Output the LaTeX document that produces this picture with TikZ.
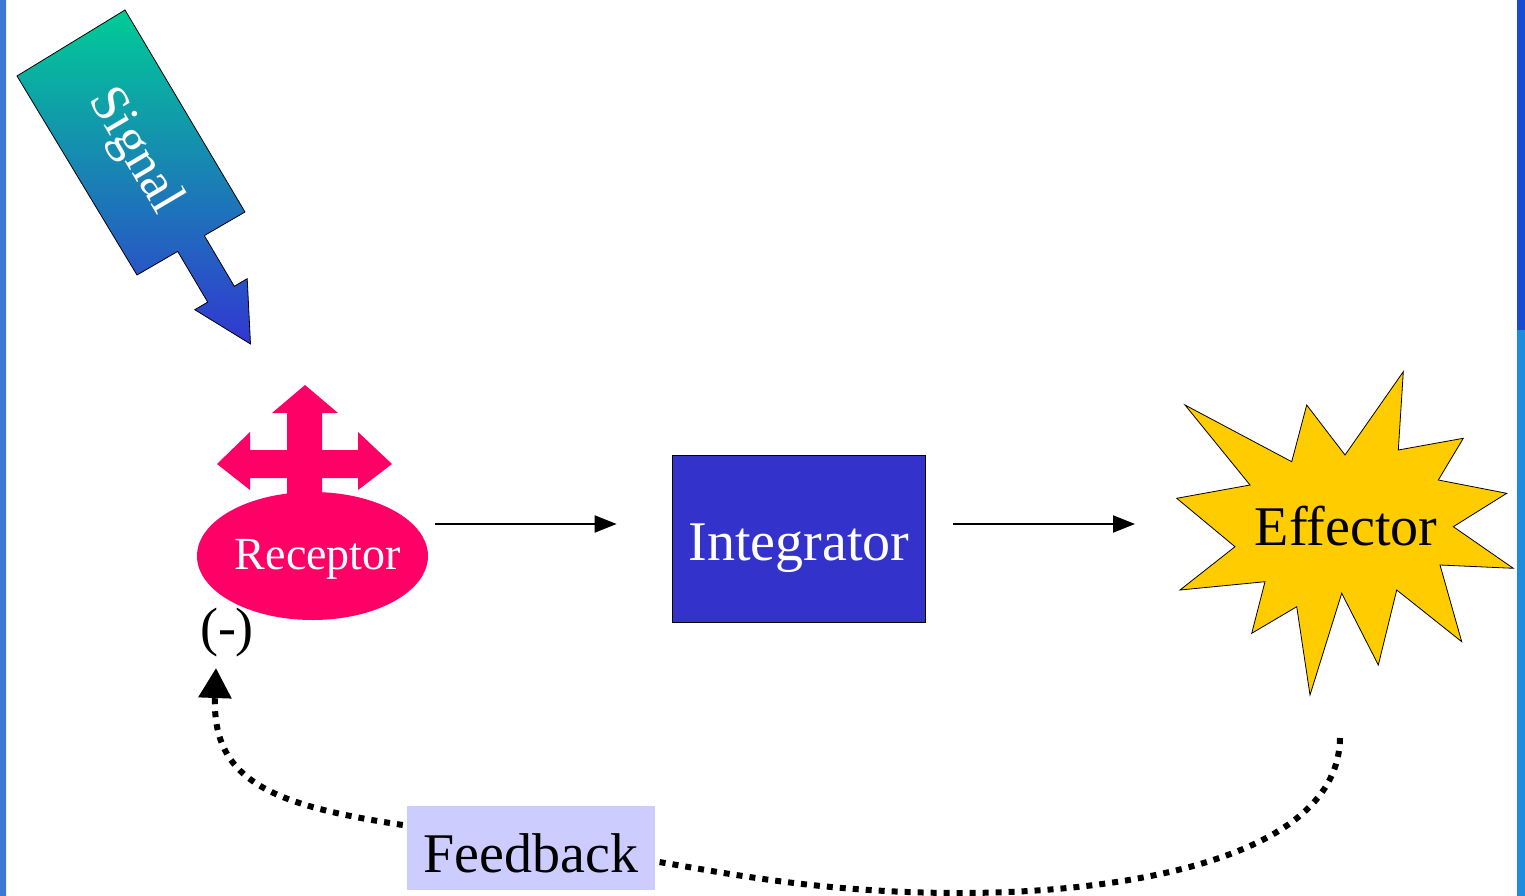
\documentclass[tikz,border=0pt]{standalone}
\usepackage{fontspec}
\setmainfont{Liberation Serif}
\usetikzlibrary{shapes.geometric,arrows.meta}
\definecolor{sigtop}{RGB}{0,204,150}
\definecolor{sigmid}{RGB}{25,150,185}
\definecolor{sigbot}{RGB}{50,55,210}
\definecolor{recpink}{RGB}{255,0,102}
\definecolor{intblue}{RGB}{51,51,204}
\definecolor{effgold}{RGB}{255,204,0}
\definecolor{fblav}{RGB}{204,204,255}
\definecolor{edgeblue}{RGB}{60,120,210}
\definecolor{edgeteal}{RGB}{95,172,182}
\definecolor{rdark}{RGB}{25,75,210}
\definecolor{rlight}{RGB}{30,140,220}
\newcommand\bigtxt{\fontsize{56}{62}\selectfont}
\newcommand\midtxt{\fontsize{46}{52}\selectfont}
\newcommand\sigtxt{\fontsize{53}{58}\selectfont}
\begin{document}
\begin{tikzpicture}[x=1pt,y=-1pt,
  flow/.style={line width=2pt,-{Triangle[length=22pt,width=17pt]}},
  fbline/.style={line width=6pt,dash pattern=on 6pt off 7pt},
  lbl/.style={inner sep=0pt,anchor=base}]
\useasboundingbox (0,0) rectangle (1525,896);
\fill[white] (0,0) rectangle (1525,896);
% side strips
\shade[top color=edgeblue,middle color=edgeteal,bottom color=edgeblue] (0,0) rectangle (6,896);
\fill[rdark] (1517,0) rectangle (1525,330);
\fill[rlight] (1517,330) rectangle (1525,896);
% signal arrow
\shade[top color=sigtop,middle color=sigmid,bottom color=sigbot,draw=black,line width=0.8pt]
  (125,10) -- (245,212) -- (204.3,235.6) -- (234.3,286.3) -- (247.2,278.7)
  -- (250.5,344) -- (194.8,309.7) -- (207.7,302.1) -- (177.7,251.4)
  -- (137,275) -- (17,76) -- cycle;
\node (sig) [inner sep=0pt,text=white,rotate=-59.4,font=\sigtxt] at (134,151) {Signal};
% receptor
\fill[recpink] (305,385) -- (338,413) -- (322,413) -- (322,450) -- (358,450) -- (358,432)
  -- (392,464) -- (358,490) -- (358,478) -- (322,478) -- (322,505) -- (287,505)
  -- (287,478) -- (250,478) -- (250,490) -- (217,464) -- (250,432) -- (250,450)
  -- (287,450) -- (287,413) -- (272,413) -- cycle;
\node (rec) [ellipse,fill=recpink,minimum width=231pt,minimum height=128pt,inner sep=0pt] at (312.5,556) {};
\node (rectext) [lbl,text=white,font=\midtxt] at (318,569) {Receptor};
\node (minus) [lbl,font=\fontsize{54}{60}\selectfont] at (227,645) {(-)};
% integrator
\node (int) [draw=black,line width=0.8pt,fill=intblue,minimum width=253pt,minimum height=167pt,inner sep=0pt] at (798.5,538.5) {};
\node (inttext) [lbl,text=white,font=\bigtxt] at (799,560) {Integrator};
% effector star
\filldraw[fill=effgold,draw=black,line width=0.8pt]
  (1403.3,371.7) -- (1398.3,450) -- (1463.3,438.3) -- (1438.3,480) -- (1506.7,493.3)
  -- (1453.3,526.7) -- (1513.3,568.3) -- (1440,565) -- (1461.7,641.7) -- (1396.7,590)
  -- (1378.3,665) -- (1341.7,593.3) -- (1310,695) -- (1296.7,606.7) -- (1251.7,633.3)
  -- (1265,581.7) -- (1180,590) -- (1235,546.7) -- (1176.7,498.3) -- (1250,485)
  -- (1185,405) -- (1291.7,461.7) -- (1306.7,405) -- (1345,455) -- cycle;
\node (eff) [lbl,font=\bigtxt] at (1346,545) {Effector};
% feedback
\node (fb) [fill=fblav,minimum width=248pt,minimum height=84pt,inner sep=0pt] at (531,848) {};
\node (fbtext) [lbl,font=\bigtxt] at (531,872) {Feedback};
% connectors
\draw[flow] ([shift={(7,-32)}]rec.east) -- ([shift={(-55,-14.5)}]int.west);
\draw[flow] ([shift={(28,-14.5)}]int.east) -- ([shift={(-211,-21)}]eff.base);
\coordinate (fbstart) at (1340,738);
\coordinate (fbtip) at (216,668);
\draw[fbline] (fbstart) .. controls (1338,860) and (1120,893) .. (960,893)
  .. controls (820,893) and (720,872) .. ([shift={(4,14)}]fb.east);
\draw[fbline,-{Triangle[length=30pt,width=32pt]}] ([shift={(-4,-23)}]fb.west)
  .. controls (270,805) and (212,780) .. (fbtip);
\end{tikzpicture}
\end{document}
